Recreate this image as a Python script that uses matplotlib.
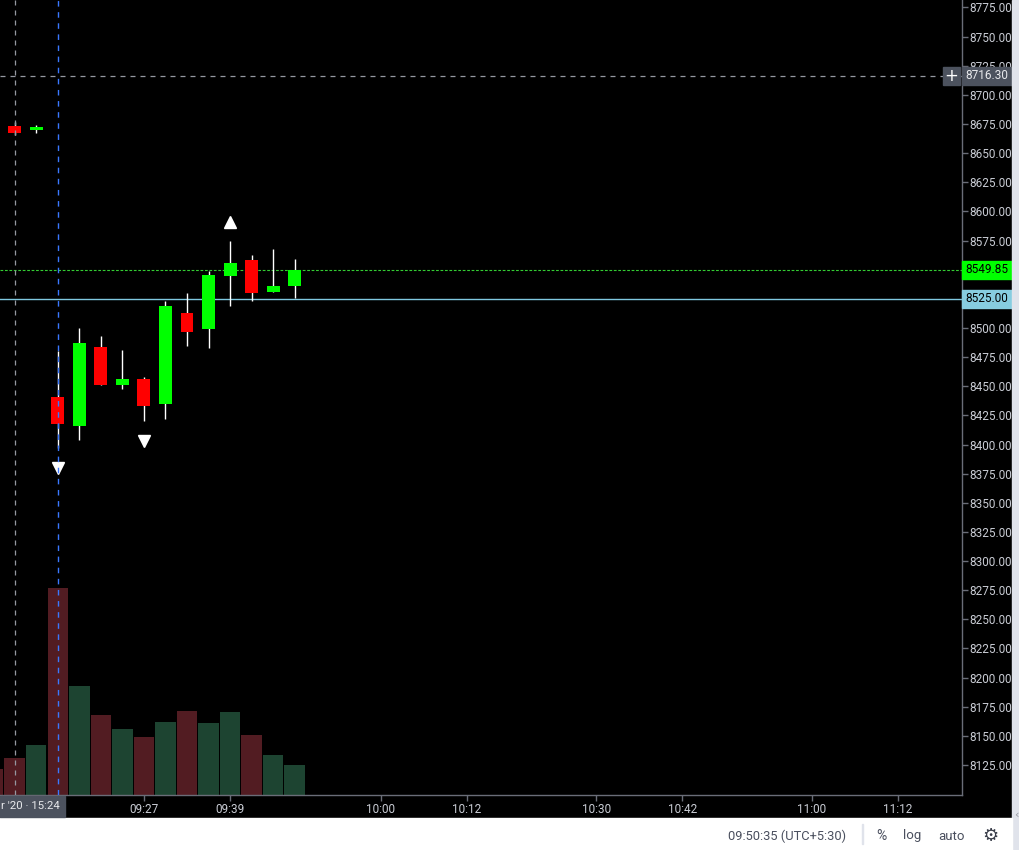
import numpy as np
import matplotlib
matplotlib.use("Agg")
import matplotlib.pyplot as plt
from matplotlib.patches import Rectangle
from matplotlib.transforms import blended_transform_factory

# 3-minute candles; bar 0 = 15:24 of the previous session, bar 2 = 09:15
opens = [8673.7, 8669.6, 8441.0, 8415.5, 8483.9, 8450.7, 8456.4,
         8434.4, 8513.1, 8498.8, 8544.3, 8558.6, 8530.6, 8535.7]
highs = [8677.0, 8674.5, 8480.5, 8500.2, 8493.4, 8481.3, 8458.1,
         8523.4, 8530.3, 8549.2, 8574.9, 8562.6, 8568.1, 8559.5]
lows = [8666.0, 8667.1, 8396.6, 8404.3, 8450.7, 8447.3, 8419.8,
        8421.5, 8484.2, 8482.5, 8518.5, 8522.8, 8530.6, 8525.7]
closes = [8667.1, 8672.8, 8417.2, 8487.4, 8450.7, 8456.4, 8432.7,
          8519.1, 8496.2, 8545.7, 8556.0, 8529.7, 8536.3, 8549.85]

# volume starts one bar earlier (bar -1, only partly visible)
volumes = [26, 37, 50, 207, 109, 80, 66, 58, 73, 84, 72, 83, 60, 40, 30]
prev_bar_up = False

# signal arrows
sig_down_x = [2, 6]
sig_down_y = [8380, 8403]
sig_up_x = [10]
sig_up_y = [8591]

last_price = 8549.85
level_price = 8525.00
cross_price = 8716.30

time_ticks = [6, 10, 17, 21, 27, 31, 37, 41]
time_labels = ["09:27", "09:39", "10:00", "10:12", "10:30", "10:42", "11:00", "11:12"]
price_ticks = np.arange(8125, 8776, 25)

UP = "#00ff00"
DOWN = "#ff0000"
VOL_UP = "#1d4431"
VOL_DOWN = "#521c22"
AXIS_TXT = "#c9ccd4"
AXIS_LINE = "#6a6d78"

plt.rcParams["font.family"] = ["Roboto", "DejaVu Sans"]

W, H = 1020, 850
fig = plt.figure(figsize=(W / 100, H / 100), dpi=100, facecolor="black")
rect = [0, 55 / H, 962 / W, 795 / H]

ax_vol = fig.add_axes(rect)
ax = fig.add_axes(rect, sharex=ax_vol)
ax_vol.set_zorder(0)
ax.set_zorder(1)
ax.patch.set_visible(False)
ax_vol.set_facecolor("black")
ax_vol.axis("off")

x = np.arange(len(opens))
o = np.array(opens)
c = np.array(closes)
up = c >= o

# volume
vx = np.arange(-1, len(opens))
vol_up = [prev_bar_up] + list(up)
ax_vol.bar(vx, volumes, width=0.95,
           color=[VOL_UP if u else VOL_DOWN for u in vol_up])
ax_vol.set_ylim(0, max(volumes) * 795 / 207)

# candles
ax.vlines(x, lows, highs, color="white", lw=1, zorder=3)
ax.bar(x, np.abs(c - o), bottom=np.minimum(o, c), width=0.6,
       color=[UP if u else DOWN for u in up], zorder=4)

ax.plot(sig_down_x, sig_down_y, "v", color="white", ms=9, zorder=5)
ax.plot(sig_up_x, sig_up_y, "^", color="white", ms=9, zorder=5)

# reference lines
ax.axhline(last_price, color="#33cc33", lw=0.8, ls=(0, (2.5, 1.5)), zorder=2)
ax.axhline(level_price, color="#7fc8e0", lw=1, zorder=2)
ax.axhline(cross_price, color="#9598a1", lw=0.9, ls=(0, (4, 4)), zorder=2)
ax.axvline(0, color="#9598a1", lw=0.9, ls=(0, (4, 4)), zorder=6)
ax.axvline(2, color="#3a78ff", lw=1, ls=(0, (4, 4)), zorder=6)

ax.set_xlim(-14.7 / 21.54, (962 - 14.7) / 21.54)
ax.set_ylim(8125 - 30 / 1.1654, 8775 + 7.5 / 1.1654)

for s in ["left", "top"]:
    ax.spines[s].set_visible(False)
for s in ["right", "bottom"]:
    ax.spines[s].set_color(AXIS_LINE)
    ax.spines[s].set_linewidth(1)

# labels hidden under the price boxes are left blank
hidden = {round(last_price / 25) * 25, level_price}
ax.yaxis.tick_right()
ax.set_yticks(price_ticks)
ax.set_yticklabels(["" if v in hidden else f"{v:.2f}" for v in price_ticks])
ax.set_xticks(time_ticks)
ax.set_xticklabels(time_labels)
ax.tick_params(axis="both", colors=AXIS_LINE, labelcolor=AXIS_TXT,
               labelsize=8.5, length=4, width=1, pad=1.5)

# price labels on the right scale
bt = blended_transform_factory(ax.transAxes, ax.transData)
box_h = 18 / 1.1654
box_w = 50 / 962
for price, bg, fg in [(last_price, UP, "black"),
                      (level_price, "#87cde0", "black"),
                      (cross_price, "#4c525e", "#e8e9ec")]:
    ax.add_patch(Rectangle((1.0, price - box_h / 2), box_w, box_h, transform=bt,
                           color=bg, clip_on=False, zorder=10))
    ax.text(1.0 + 46 / 962, price, f"{price:.2f}", transform=bt, ha="right",
            va="center", fontsize=8.5, color=fg, zorder=11, clip_on=False)

# crosshair "+" handle
ax.add_patch(Rectangle((943 / 962, cross_price - box_h / 2), 17 / 962, box_h,
                       transform=bt, color="#4c525e", clip_on=False, zorder=10))
ax.text(951.5 / 962, cross_price, "+", transform=bt, ha="center", va="center",
        fontsize=12, color="white", zorder=11, family="DejaVu Sans")

# time label of crosshair
fig.patches.append(Rectangle((0, (H - 817) / H), 65 / W, 21 / H,
                             transform=fig.transFigure, color="#4c525e", zorder=10))
fig.text(60 / W, (H - 806) / H, "r '20 \u00b7 15:24", ha="right", va="center",
         fontsize=8.2, color="#e8e9ec", zorder=11)

# status bar and right edge strip
fig.patches.append(Rectangle((1012 / W, 0), 8 / W, 1, transform=fig.transFigure,
                             color="#e0e3eb", zorder=1))
fig.patches.append(Rectangle((0, 0), 1012 / W, 32 / H, transform=fig.transFigure,
                             color="white", zorder=1))
fig.patches.append(Rectangle((862 / W, 6 / H), 1 / W, 20 / H, transform=fig.transFigure,
                             color="#e0e3eb", zorder=2))
status_y = (H - 836) / H
fig.text(787 / W, status_y, "09:50:35 (UTC+5:30)", ha="center", va="center",
         fontsize=9.3, color="#4a4f5e")
fig.text(881 / W, status_y, "%", ha="center", va="center", fontsize=10, color="#4a4f5e")
fig.text(912 / W, status_y, "log", ha="center", va="center", fontsize=9.5, color="#4a4f5e")
fig.text(952 / W, status_y, "auto", ha="center", va="center", fontsize=9.5, color="#4a4f5e")
fig.text(990 / W, status_y, "\u2699", ha="center", va="center", fontsize=13,
         color="#3a3e4a", family="DejaVu Sans")
fig.text(1016 / W, (H - 815) / H, "\u2039", ha="center", va="center", fontsize=8,
         color="#9598a1", family="DejaVu Sans")

fig.savefig("out.png", dpi=100, facecolor=fig.get_facecolor())
